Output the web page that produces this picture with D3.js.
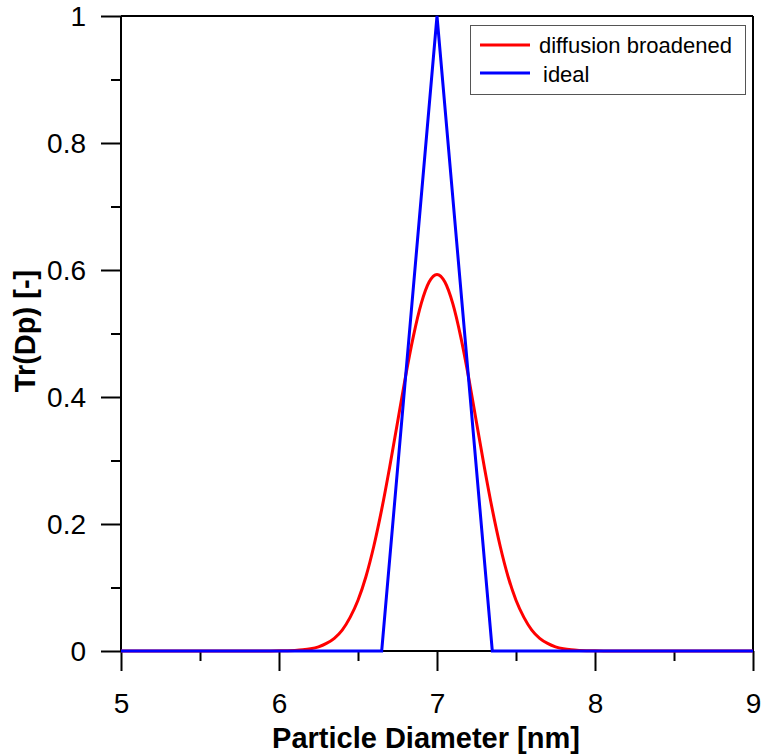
<!DOCTYPE html>
<html>
<head>
<meta charset="utf-8">
<script src="https://cdn.jsdelivr.net/npm/d3@7"></script>
<style>
  html, body { margin: 0; padding: 0; background: #fff; }
  svg { display: block; font-family: "Liberation Sans", Arial, sans-serif; }
</style>
</head>
<body>
<svg id="chart" width="763" height="756"></svg>
<script>
// ---- data ----
const broadenedX = [5.0, 5.5, 5.9, 6.0, 6.1, 6.15, 6.2, 6.25, 6.3, 6.35, 6.4, 6.45, 6.5, 6.55, 6.6, 6.65, 6.7, 6.75, 6.8, 6.85, 6.9, 6.95, 7.0,
                    7.05, 7.1, 7.15, 7.2, 7.25, 7.3, 7.35, 7.4, 7.45, 7.5, 7.55, 7.6, 7.65, 7.7, 7.75, 7.8, 7.85, 7.9, 8.0, 8.1, 8.5, 9.0];
const broadenedY = [0, 0, 0.0001, 0.0002, 0.0009, 0.0018, 0.0035, 0.0066, 0.012, 0.020, 0.033, 0.053, 0.080, 0.117, 0.165, 0.223, 0.289, 0.360, 0.431, 0.495, 0.547, 0.581, 0.593,
                    0.581, 0.547, 0.495, 0.431, 0.360, 0.289, 0.223, 0.165, 0.117, 0.080, 0.053, 0.033, 0.020, 0.012, 0.0066, 0.0035, 0.0018, 0.0009, 0.0002, 0.0001, 0, 0];
const idealX = [5.0, 6.65, 7.0, 7.35, 9.0];
const idealY = [0, 0, 1, 0, 0];
const xTicks = [5, 6, 7, 8, 9];
const xMinorTicks = [5.5, 6.5, 7.5, 8.5];
const yTicks = [0, 0.2, 0.4, 0.6, 0.8, 1];
const yTickLabels = ["0", "0.2", "0.4", "0.6", "0.8", "1"];
const yMinorTicks = [0.1, 0.3, 0.5, 0.7, 0.9];
const seriesNames = ["diffusion broadened", "ideal"];
const seriesColors = ["#ff0000", "#0000ff"];
const xTitle = "Particle Diameter [nm]";
const yTitle = "Tr(Dp) [-]";

// ---- layout ----
const L = 121, R = 753, T = 16, B = 651;
const svg = d3.select("#chart");
const x = d3.scaleLinear().domain([5, 9]).range([L, R]);
const y = d3.scaleLinear().domain([0, 1]).range([B, T]);

// frame (top and right)
svg.append("line").attr("x1", L).attr("x2", R).attr("y1", T).attr("y2", T)
  .attr("stroke", "#000").attr("stroke-width", 2);
svg.append("line").attr("x1", R).attr("x2", R).attr("y1", T).attr("y2", B)
  .attr("stroke", "#000").attr("stroke-width", 2);

// x axis
const xAxis = svg.append("g").attr("transform", `translate(0,${B})`)
  .call(d3.axisBottom(x).tickValues(xTicks).tickFormat(d3.format("d")).tickSize(20).tickPadding(22));
const xMinor = svg.append("g").attr("transform", `translate(0,${B})`)
  .call(d3.axisBottom(x).tickValues(xMinorTicks).tickFormat("").tickSize(10));
// y axis
const yAxis = svg.append("g").attr("transform", `translate(${L},0)`)
  .call(d3.axisLeft(y).tickValues(yTicks).tickFormat((d, i) => yTickLabels[i]).tickSize(20).tickPadding(15));
const yMinor = svg.append("g").attr("transform", `translate(${L},0)`)
  .call(d3.axisLeft(y).tickValues(yMinorTicks).tickFormat("").tickSize(10));

[xAxis, xMinor, yAxis, yMinor].forEach(g => {
  g.select(".domain").attr("stroke", "#000").attr("stroke-width", 2);
  g.selectAll(".tick line").attr("stroke", "#000").attr("stroke-width", 2);
  g.selectAll(".tick text").attr("fill", "#000").attr("font-size", 28)
    .attr("font-family", "'Liberation Sans', Arial, sans-serif");
});
xMinor.select(".domain").remove();
yMinor.select(".domain").remove();
xAxis.select(".domain").remove();
yAxis.select(".domain").remove();
svg.append("line").attr("x1", L).attr("x2", R).attr("y1", B).attr("y2", B)
  .attr("stroke", "#000").attr("stroke-width", 2);
svg.append("line").attr("x1", L).attr("x2", L).attr("y1", T).attr("y2", B)
  .attr("stroke", "#000").attr("stroke-width", 2);
xAxis.selectAll(".tick text").attr("dy", null).attr("y", 62);
yAxis.selectAll(".tick text").attr("dy", "0.35em");

// series
const redData = broadenedX.map((v, i) => [v, broadenedY[i]]);
const blueData = idealX.map((v, i) => [v, idealY[i]]);
svg.append("path").datum(redData)
  .attr("d", d3.line().x(d => x(d[0])).y(d => y(d[1])).curve(d3.curveMonotoneX))
  .attr("fill", "none").attr("stroke", seriesColors[0]).attr("stroke-width", 3);
svg.append("path").datum(blueData)
  .attr("d", d3.line().x(d => x(d[0])).y(d => y(d[1])))
  .attr("fill", "none").attr("stroke", seriesColors[1]).attr("stroke-width", 3)
  .attr("stroke-linejoin", "miter");

// axis titles
svg.append("text").attr("x", 426).attr("y", 748)
  .attr("text-anchor", "middle").attr("font-weight", "bold").attr("font-size", 29)
  .attr("fill", "#000").text(xTitle);
svg.append("text").attr("transform", `translate(35,${331}) rotate(-90)`)
  .attr("text-anchor", "middle").attr("font-weight", "bold").attr("font-size", 29)
  .attr("fill", "#000").text(yTitle);

// legend
const lg = svg.append("g");
lg.append("rect").attr("x", 470.5).attr("y", 25.5).attr("width", 275).attr("height", 69)
  .attr("fill", "#fff").attr("stroke", "#555").attr("stroke-width", 1);
const legendRows = [45, 73];
const legendTextX = [539, 543];
const legendTextY = [53, 82];
seriesNames.forEach((name, i) => {
  lg.append("line").attr("x1", 480).attr("x2", 530).attr("y1", legendRows[i]).attr("y2", legendRows[i])
    .attr("stroke", seriesColors[i]).attr("stroke-width", 3);
  lg.append("text").attr("x", legendTextX[i]).attr("y", legendTextY[i])
    .attr("font-size", 22).attr("fill", "#000").text(name);
});
</script>
</body>
</html>
